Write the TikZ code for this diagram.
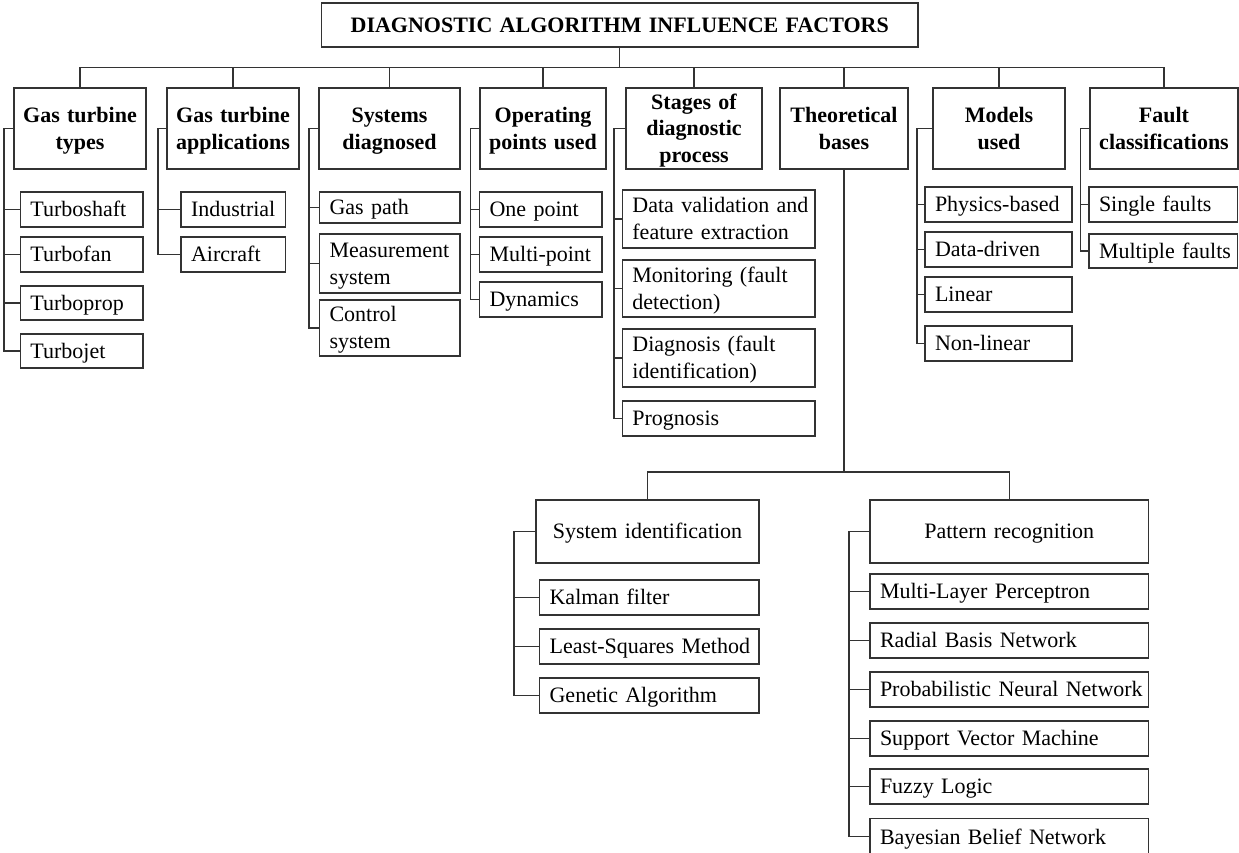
\documentclass[tikz,border=0pt]{standalone}
\usepackage{fontspec}
\setmainfont{Liberation Serif}
\usetikzlibrary{calc}
\definecolor{lc}{HTML}{333333}
\tikzset{
  box/.style={draw=lc, line width=1.1pt, inner sep=0pt, outer sep=0pt,
              text height=14.6pt, text depth=0pt,
              execute at begin node={\hyphenpenalty=10000\exhyphenpenalty=10000\lefthyphenmin=64\relax}},
  headbox/.style={box, font=\fontsize{22}{26.5}\selectfont\bfseries, align=center},
  midbox/.style={box, font=\fontsize{22}{27}\selectfont, align=center},
  leafbox/.style={box, font=\fontsize{22}{27}\selectfont, align=left},
  two/.style={text depth=27pt},
  htwo/.style={text depth=26.5pt},
  hthree/.style={text depth=53pt},
  wire/.style={draw=lc, line width=1.1pt},
}
% Box given by its corners (x1,y1)-(x2,y2); text centred
\newcommand\headnode[7][]{%
  \pgfmathsetmacro\nodeW{#5-#3}\pgfmathsetmacro\nodeH{#6-#4}\pgfmathsetmacro\nodeT{#5-#3-4}%
  \node[headbox,#1,minimum width=\nodeW pt,minimum height=\nodeH pt,text width=\nodeT pt]
    (#2) at ({(#3+#5)/2},{(#4+#6)/2}) {#7};}
\newcommand\midnode[7][]{%
  \pgfmathsetmacro\nodeW{#5-#3}\pgfmathsetmacro\nodeH{#6-#4}\pgfmathsetmacro\nodeT{#5-#3-4}%
  \node[midbox,#1,minimum width=\nodeW pt,minimum height=\nodeH pt,text width=\nodeT pt]
    (#2) at ({(#3+#5)/2},{(#4+#6)/2}) {#7};}
% Box given by its corners; text set flush left, 10pt in
\newcommand\leafnode[7][]{%
  \pgfmathsetmacro\nodeW{#5-#3}\pgfmathsetmacro\nodeH{#6-#4}\pgfmathsetmacro\nodeT{#5-#3-20}%
  \node[leafbox,#1,minimum width=\nodeW pt,minimum height=\nodeH pt,text width=\nodeT pt]
    (#2) at ({(#3+#5)/2},{(#4+#6)/2}) {#7};}

\begin{document}
\begin{tikzpicture}[x=1pt,y=-1pt]
\useasboundingbox (0,0) rectangle (1239,853);

% root
\headnode{title}{321.5}{3}{918}{47}{DIAGNOSTIC~ALGORITHM~INFLUENCE~FACTORS}

% first level
\headnode[htwo]{b1}{14}{88}{146}{169}{Gas~turbine\\types}
\headnode[htwo]{b2}{167}{88}{299}{169}{Gas~turbine\\applications}
\headnode[htwo]{b3}{319}{88}{460}{169}{Systems\\diagnosed}
\headnode[htwo]{b4}{480}{88}{606}{169}{Operating\\points~used}
\headnode[hthree]{b5}{626}{88}{762}{169}{Stages~of\\diagnostic\\process}
\headnode[htwo]{b6}{780}{88}{908}{169}{Theoretical\\bases}
\headnode[htwo]{b7}{933}{88}{1065}{169}{Models\\used}
\headnode[htwo]{b8}{1090}{88}{1238}{169}{Fault\\classifications}

\foreach \q in {b1,b2,b3,b4,b5,b6,b7,b8}
  \draw[wire] (title.south) |- ($(title.south)!.5!(\q.north)$) -| (\q.north);

% gas turbine types
\leafnode{c1a}{20.5}{192}{143}{227}{Turboshaft}
\leafnode{c1b}{20.5}{237}{143}{272}{Turbofan}
\leafnode{c1c}{20.5}{286}{143}{320}{Turboprop}
\leafnode{c1d}{20.5}{334}{143}{368}{Turbojet}
% applications
\leafnode{c2a}{181}{192}{285.5}{227}{Industrial}
\leafnode{c2b}{181}{237}{285.5}{272}{Aircraft}
% systems diagnosed
\leafnode{c3a}{319.5}{192}{460}{223}{Gas~path}
\leafnode[two]{c3b}{319.5}{234}{460}{293}{Measurement\\system}
\leafnode[two]{c3c}{319.5}{300}{460}{356}{Control\\system}
% operating points
\leafnode{c4a}{479.6}{192}{602}{227}{One~point}
\leafnode{c4b}{479.6}{237}{602}{272}{Multi-point}
\leafnode{c4c}{479.6}{282}{602}{317}{Dynamics}
% stages
\leafnode[two]{c5a}{622.4}{190}{815}{248}{Data~validation~and\\feature~extraction}
\leafnode[two]{c5b}{622.4}{260}{815}{317}{Monitoring~(fault\\detection)}
\leafnode[two]{c5c}{622.4}{329}{815}{387}{Diagnosis~(fault\\identification)}
\leafnode{c5d}{622.4}{401}{815}{436}{Prognosis}
% models
\leafnode{c7a}{925}{187}{1072}{222}{Physics-based}
\leafnode{c7b}{925}{232}{1072}{267}{Data-driven}
\leafnode{c7c}{925}{277}{1072}{312}{Linear}
\leafnode{c7d}{925}{326}{1072}{361}{Non-linear}
% fault classifications
\leafnode{c8a}{1089}{187}{1237.5}{222}{Single~faults}
\leafnode{c8b}{1089}{234}{1237.5}{268}{Multiple~faults}

% trunk lines of the first level
\coordinate (t1) at (4,0);
\coordinate (t2) at (158,0);
\coordinate (t3) at (309,0);
\coordinate (t4) at (470.5,0);
\coordinate (t5) at (614,0);
\coordinate (t7) at (917,0);
\coordinate (t8) at (1080.5,0);
\draw[wire] (b1.west) -| (t1 |- c1d.west) -- (c1d.west);
\foreach \q in {c1a,c1b,c1c} \draw[wire] (t1 |- \q.west) -- (\q.west);
\draw[wire] (b2.west) -| (t2 |- c2b.west) -- (c2b.west);
\draw[wire] (t2 |- c2a.west) -- (c2a.west);
\draw[wire] (b3.west) -| (t3 |- c3c.west) -- (c3c.west);
\foreach \q in {c3a,c3b} \draw[wire] (t3 |- \q.west) -- (\q.west);
\draw[wire] (b4.west) -| (t4 |- c4c.west) -- (c4c.west);
\foreach \q in {c4a,c4b} \draw[wire] (t4 |- \q.west) -- (\q.west);
\draw[wire] (b5.west) -| (t5 |- c5d.west) -- (c5d.west);
\foreach \q in {c5a,c5b,c5c} \draw[wire] (t5 |- \q.west) -- (\q.west);
\draw[wire] (b7.west) -| (t7 |- c7d.west) -- (c7d.west);
\foreach \q in {c7a,c7b,c7c} \draw[wire] (t7 |- \q.west) -- (\q.west);
\draw[wire] (b8.west) -| (t8 |- c8b.west) -- (c8b.west);
\draw[wire] (t8 |- c8a.west) -- (c8a.west);

% theoretical bases
\midnode{si}{536}{500}{759}{563}{System~identification}
\midnode{pr}{870}{500}{1148.5}{563}{Pattern~recognition}
\coordinate (tb) at (844,472);
\draw[wire] (b6.south) -- (tb);
\draw[wire] (si.north) |- (tb) -| (pr.north);

\leafnode{d1a}{539.6}{580}{759}{615}{Kalman~filter}
\leafnode{d1b}{539.6}{629}{759}{664}{Least-Squares~Method}
\leafnode{d1c}{539.6}{678}{759}{713}{Genetic~Algorithm}

\leafnode{d2a}{870}{574}{1148.5}{609}{Multi-Layer~Perceptron}
\leafnode{d2b}{870}{623}{1148.5}{658}{Radial~Basis~Network}
\leafnode{d2c}{870}{672}{1148.5}{707}{Probabilistic~Neural~Network}
\leafnode{d2d}{870}{721}{1148.5}{756}{Support~Vector~Machine}
\leafnode{d2e}{870}{769}{1148.5}{804}{Fuzzy~Logic}
\leafnode{d2f}{870}{818.5}{1148.5}{855}{Bayesian~Belief~Network}

\coordinate (u1) at (514,0);
\coordinate (u2) at (849,0);
\draw[wire] (si.west) -| (u1 |- d1c.west) -- (d1c.west);
\foreach \q in {d1a,d1b} \draw[wire] (u1 |- \q.west) -- (\q.west);
\draw[wire] (pr.west) -| (u2 |- d2f.west) -- (d2f.west);
\foreach \q in {d2a,d2b,d2c,d2d,d2e} \draw[wire] (u2 |- \q.west) -- (\q.west);
\end{tikzpicture}
\end{document}
